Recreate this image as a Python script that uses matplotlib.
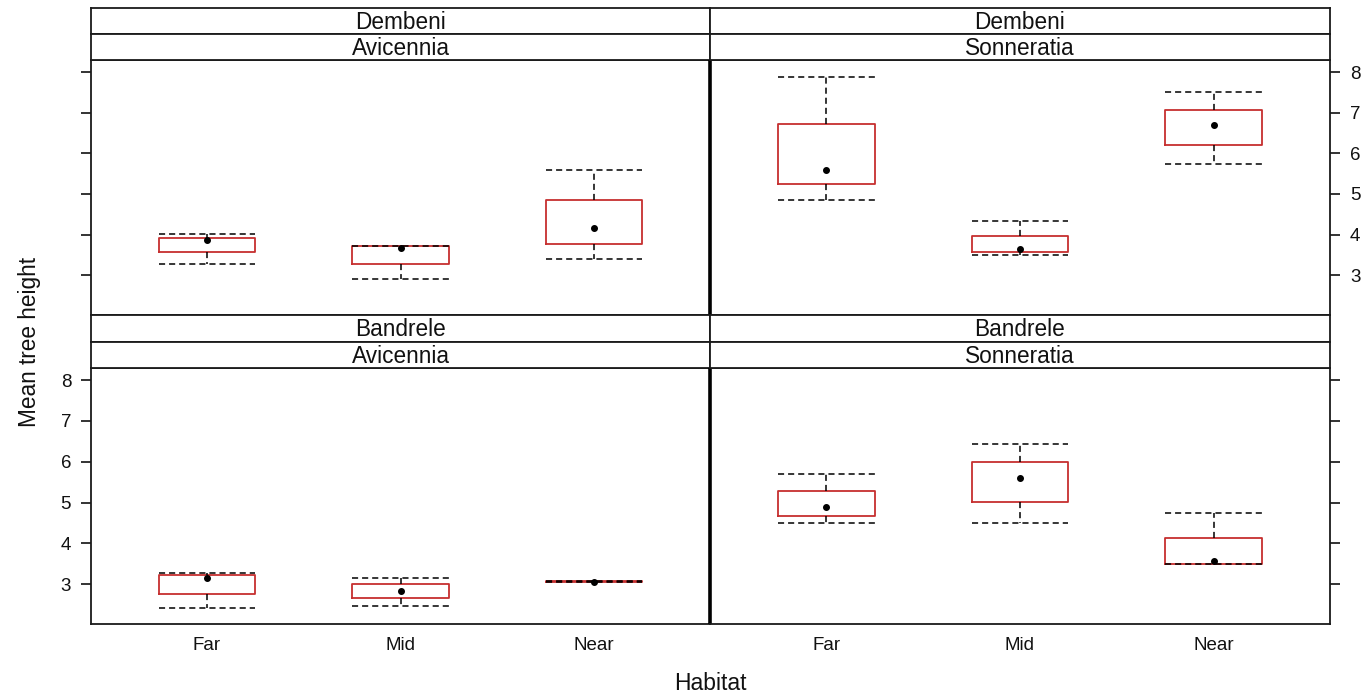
import matplotlib
matplotlib.use("Agg")
import matplotlib.pyplot as plt

plt.rcParams['font.family'] = ['Liberation Sans', 'DejaVu Sans']

habitats = ["Far", "Mid", "Near"]
sites = ["Dembeni", "Bandrele"]
species = ["Avicennia", "Sonneratia"]

# Dembeni - Avicennia
dem_avi_med = [3.86, 3.68, 4.17]
dem_avi_q1 = [3.56, 3.27, 3.77]
dem_avi_q3 = [3.91, 3.71, 4.85]
dem_avi_lo = [3.28, 2.90, 3.39]
dem_avi_hi = [4.01, 3.72, 5.58]

# Dembeni - Sonneratia
dem_son_med = [5.59, 3.64, 6.70]
dem_son_q1 = [5.24, 3.57, 6.20]
dem_son_q3 = [6.72, 3.97, 7.07]
dem_son_lo = [4.84, 3.49, 5.74]
dem_son_hi = [7.87, 4.33, 7.50]

# Bandrele - Avicennia
ban_avi_med = [3.15, 2.84, 3.05]
ban_avi_q1 = [2.75, 2.66, 3.04]
ban_avi_q3 = [3.21, 3.00, 3.08]
ban_avi_lo = [2.41, 2.45, 3.04]
ban_avi_hi = [3.28, 3.15, 3.08]

# Bandrele - Sonneratia
ban_son_med = [4.89, 5.59, 3.57]
ban_son_q1 = [4.66, 5.01, 3.50]
ban_son_q3 = [5.29, 5.99, 4.14]
ban_son_lo = [4.49, 4.49, 3.48]
ban_son_hi = [5.71, 6.44, 4.74]

yticks = [3, 4, 5, 6, 7, 8]

panels = {
    ("Dembeni", "Avicennia"): (dem_avi_med, dem_avi_q1, dem_avi_q3, dem_avi_lo, dem_avi_hi),
    ("Dembeni", "Sonneratia"): (dem_son_med, dem_son_q1, dem_son_q3, dem_son_lo, dem_son_hi),
    ("Bandrele", "Avicennia"): (ban_avi_med, ban_avi_q1, ban_avi_q3, ban_avi_lo, ban_avi_hi),
    ("Bandrele", "Sonneratia"): (ban_son_med, ban_son_q1, ban_son_q3, ban_son_lo, ban_son_hi),
}

W, H = 1367, 694
fig = plt.figure(figsize=(W / 100, H / 100), dpi=100)

def fa(x0, y0, x1, y1):
    return [x0 / W, 1 - y1 / H, (x1 - x0) / W, (y1 - y0) / H]

xcols = [(91, 710), (710, 1330)]
rows = [(8, 34, 60, 315), (315, 342, 368, 624)]
BOX = '#C62F2F'
EDGE = '#1a1a1a'
TXT = '#111111'

for ri, site in enumerate(sites):
    s0, s1, p0, p1 = rows[ri]
    for ci, sp in enumerate(species):
        x0, x1 = xcols[ci]
        med, q1, q3, lo, hi = panels[(site, sp)]
        ax = fig.add_axes(fa(x0, p0, x1, p1))
        stats = []
        for i in range(len(habitats)):
            stats.append(dict(med=med[i], q1=q1[i], q3=q3[i], whislo=lo[i], whishi=hi[i], fliers=[]))
        ax.bxp(stats, positions=[1, 2, 3], widths=0.5, capwidths=0.5, showfliers=False,
               boxprops=dict(color=BOX, linewidth=1.3),
               whiskerprops=dict(color='black', linewidth=1.1, linestyle=(0, (4, 2.6))),
               capprops=dict(color='black', linewidth=1.1, linestyle=(0, (4, 2.6))),
               medianprops=dict(linewidth=0, alpha=0))
        ax.plot([1, 2, 3], med, 'o', color='black', markersize=4, zorder=5)
        ax.set_xlim(0.4, 3.6)
        ax.set_ylim(2.02, 8.30)
        for s in ax.spines.values():
            s.set_color(EDGE)
            s.set_linewidth(1.3)
        if ci == 1:
            ax.spines['left'].set_linewidth(2.6)
            ax.spines['left'].set_color('black')
            ax.spines['left'].set_capstyle('butt')
        ax.set_yticks(yticks)
        ax.set_xticks([1, 2, 3])
        ax.set_xticklabels(habitats if ri == 1 else [])
        ax.tick_params(axis='x', length=0, pad=9.5, labelsize=13.5, colors=TXT,
                       labelbottom=(ri == 1))
        left = (ci == 0)
        ax.tick_params(axis='y', length=7.3, width=1.2, pad=7.0, labelsize=13.5, colors=TXT,
                       left=left, right=not left,
                       labelleft=(left and ri == 1), labelright=(not left and ri == 0))
        sa = fig.add_axes(fa(x0, s0, x1, s1))
        sa.set_xticks([]); sa.set_yticks([])
        sa.text(0.5, 0.45, site, ha='center', va='center', fontsize=16.3, color=TXT,
                transform=sa.transAxes)
        sb = fig.add_axes(fa(x0, s1, x1, p0))
        sb.set_xticks([]); sb.set_yticks([])
        sb.text(0.5, 0.45, sp, ha='center', va='center', fontsize=16.3, color=TXT,
                transform=sb.transAxes)
        for s_ax in (sa, sb):
            for s in s_ax.spines.values():
                s.set_color(EDGE)
                s.set_linewidth(1.3)

fig.text(30 / W, 1 - 342 / H, "Mean tree height", rotation=90, ha='center', va='center',
         fontsize=16.3, color=TXT)
fig.text(710 / W, 1 - 683 / H, "Habitat", ha='center', va='center', fontsize=16.5, color=TXT)

fig.savefig("out.png", dpi=100)
